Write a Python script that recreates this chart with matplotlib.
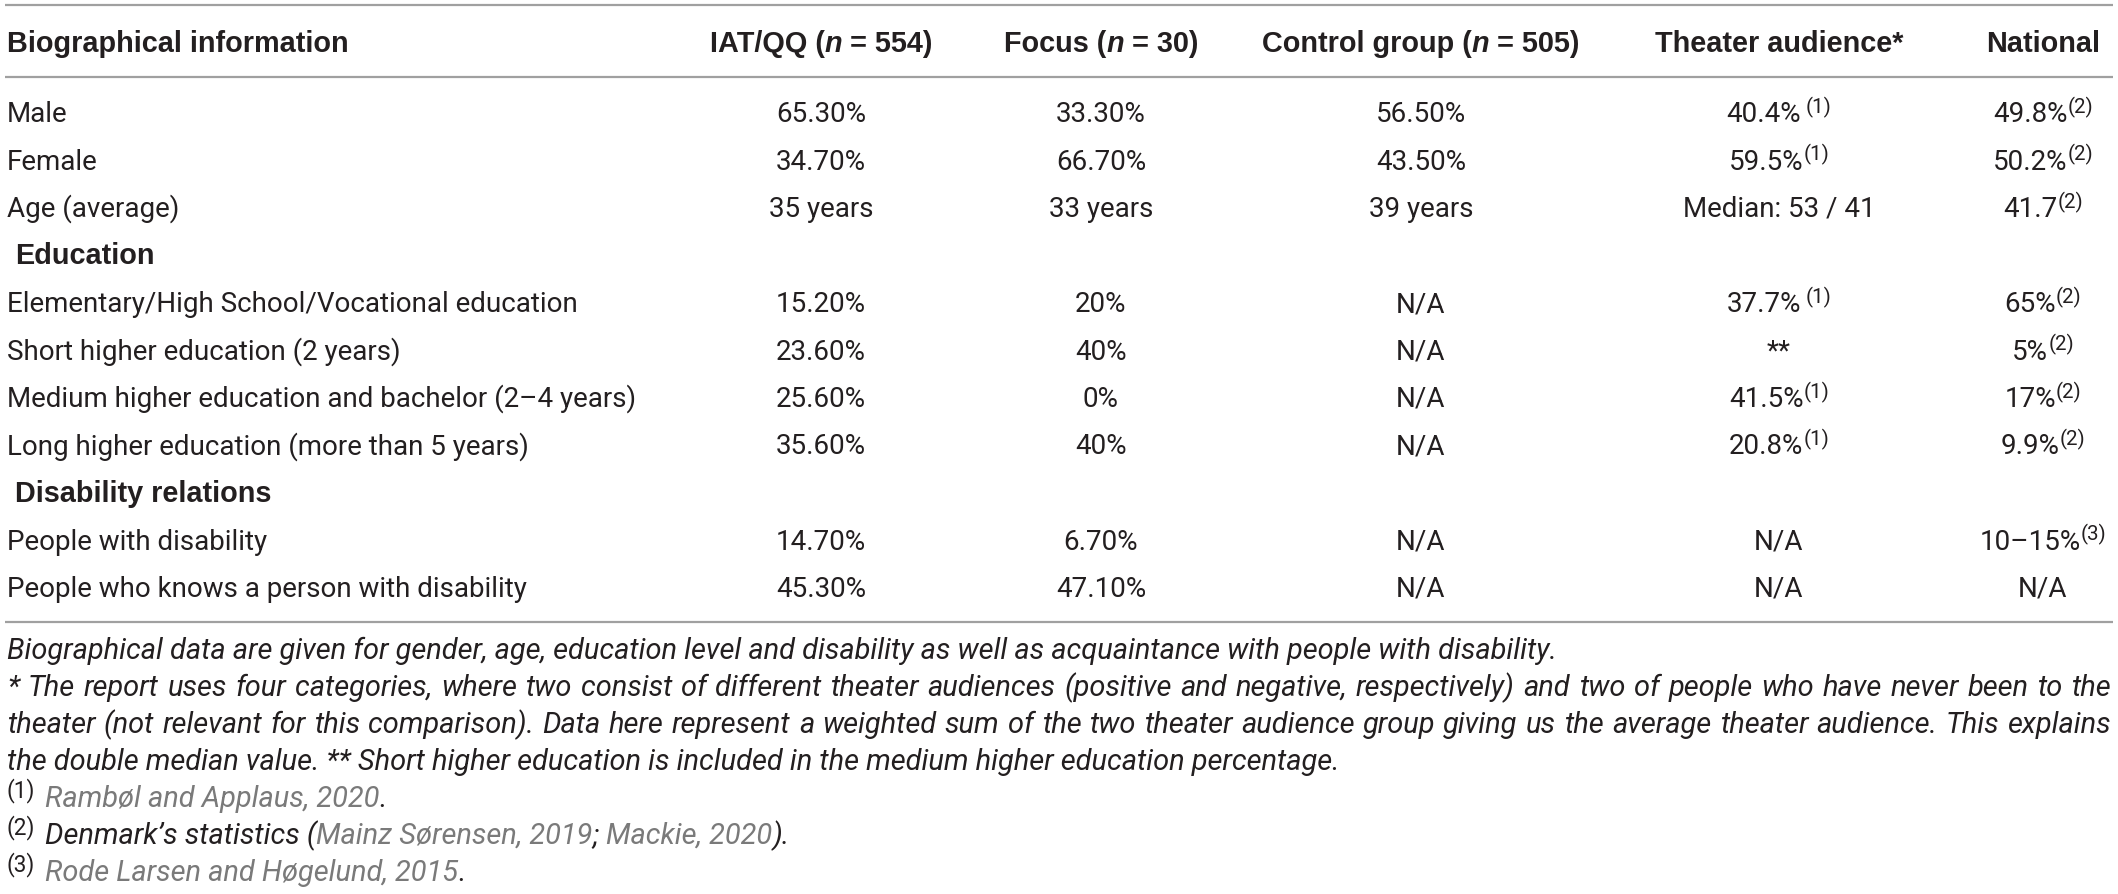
import matplotlib
matplotlib.use("Agg")
import matplotlib.pyplot as plt
from matplotlib.font_manager import FontProperties

# ---------------- data ----------------
header_cells = ["Biographical information", "IAT/QQ (_n_ = 554)", "Focus (_n_ = 30)",
                "Control group (_n_ = 505)", "Theater audience*", "National"]

row_labels = ["Male", "Female", "Age (average)", "Education",
              "Elementary/High School/Vocational education",
              "Short higher education (2 years)",
              "Medium higher education and bachelor (2–4 years)",
              "Long higher education (more than 5 years)",
              "Disability relations", "People with disability",
              "People who knows a person with disability"]
section_rows = ["Education", "Disability relations"]

iat_qq = ["65.30%", "34.70%", "35 years", "", "15.20%", "23.60%", "25.60%", "35.60%", "", "14.70%", "45.30%"]
focus = ["33.30%", "66.70%", "33 years", "", "20%", "40%", "0%", "40%", "", "6.70%", "47.10%"]
control = ["56.50%", "43.50%", "39 years", "", "N/A", "N/A", "N/A", "N/A", "", "N/A", "N/A"]
theater = ["40.4%", "59.5%", "Median: 53 / 41", "", "37.7%", "**", "41.5%", "20.8%", "", "N/A", "N/A"]
theater_sup = [" (1)", "(1)", "", "", " (1)", "", "(1)", "(1)", "", "", ""]
national = ["49.8%", "50.2%", "41.7", "", "65%", "5%", "17%", "9.9%", "", "10–15%", "N/A"]
national_sup = ["(2)", "(2)", "(2)", "", "(2)", "(2)", "(2)", "(2)", "", "(3)", ""]

note_line1 = ("Biographical data are given for gender, age, education level and disability "
              "as well as acquaintance with people with disability.")
note_justified = [
    "* The report uses four categories, where two consist of different theater audiences "
    "(positive and negative, respectively) and two of people who have never been to the",
    "theater (not relevant for this comparison). Data here represent a weighted sum of the "
    "two theater audience group giving us the average theater audience. This explains",
]
note_line4 = ("the double median value. ** Short higher education is included in the "
              "medium higher education percentage.")
# reference footnotes: (marker, [(text, is_citation)])
ref_notes = [
    ("(1)", [("Rambøl and Applaus, 2020", True), (".", False)]),
    ("(2)", [("Denmark’s statistics (", False), ("Mainz Sørensen, 2019", True), ("; ", False),
             ("Mackie, 2020", True), (").", False)]),
    ("(3)", [("Rode Larsen and Høgelund, 2015", True), (".", False)]),
]

# ---------------- layout / style ----------------
W, H = 2118, 894
TXT = "#231f20"
GREY = "#7a7a7a"
RULE = "#a0a0a0"
FAM_BODY = ["Liberation Sans Narrow", "Roboto", "DejaVu Sans"]
FAM_HEAD = ["Liberation Sans", "Roboto", "DejaVu Sans"]

fig = plt.figure(figsize=(W / 100, H / 100), dpi=100)
ax = fig.add_axes([0, 0, 1, 1])
ax.set_xlim(0, W)
ax.set_ylim(H, 0)
ax.axis("off")
renderer = fig.canvas.get_renderer()


def fp(size, fam, weight="normal", style="normal"):
    return FontProperties(family=fam, size=size, weight=weight, style=style)


def ink_width(s, prop):
    t = ax.text(0, 0, s, fontproperties=prop)
    w = t.get_window_extent(renderer).width
    t.remove()
    return w


def adv(s, prop):
    return ink_width("I" + s + "I", prop) - ink_width("II", prop)


def fit(text, target, fam, **kw):
    return 20 * target / ink_width(text, fp(20, fam, **kw))


body_sz = fit("Elementary/High School/Vocational education", 570, FAM_BODY)
head_sz = fit("Biographical information", 341, FAM_HEAD, weight="bold")
note_sz = fit(note_line1, 1549, FAM_BODY, style="italic")

BODY = fp(body_sz, FAM_BODY)
BOLD = fp(head_sz, FAM_HEAD, weight="bold")
BOLDI = fp(head_sz, FAM_HEAD, weight="bold", style="italic")
SUP = fp(body_sz * 0.74, FAM_BODY)
NOTE = fp(note_sz, FAM_BODY, style="italic")
NOTESUP = fp(note_sz * 0.78, FAM_BODY)
body_px = body_sz * 100 / 72
note_px = note_sz * 100 / 72


def draw_runs(x, y, runs, ha="left"):
    ws = [adv(t, p) for t, p, c, dy in runs]
    total = sum(ws)
    x0 = x - total / 2 if ha == "center" else (x - total if ha == "right" else x)
    for (t, p, c, dy), w in zip(runs, ws):
        s = t.lstrip(" ")
        lead = len(t) - len(s)
        xs = x0 + lead * adv(" ", p)
        s = s.rstrip(" ")
        if s:
            ax.text(xs, y - dy, s, fontproperties=p, color=c, ha="left", va="baseline")
        x0 += w


LEFT = 7
col_x = [LEFT, 821, 1101, 1421, 1779, 2043]
head_base = 52
row_base0 = 122
row_step = 47.5
sup_raise = body_px * 0.33

# rules
for yy in (5, 77, 622):
    ax.plot([5, 2113], [yy, yy], color=RULE, lw=1.6, solid_capstyle="butt")

# header
for j, cell in enumerate(header_cells):
    parts = cell.split("_")
    runs = [(pt, BOLDI if k % 2 else BOLD, TXT, 0) for k, pt in enumerate(parts) if pt]
    draw_runs(col_x[j], head_base, runs, ha="left" if j == 0 else "center")

# body rows
for i, lab in enumerate(row_labels):
    y = row_base0 + i * row_step
    if lab in section_rows:
        draw_runs(LEFT, y, [(" " + lab, BOLD, TXT, 0)])
        continue
    draw_runs(LEFT, y, [(lab, BODY, TXT, 0)])
    for j, col in enumerate([iat_qq, focus, control]):
        draw_runs(col_x[j + 1], y, [(col[i], BODY, TXT, 0)], ha="center")
    runs = [(theater[i], BODY, TXT, 0)]
    if theater_sup[i]:
        runs.append((theater_sup[i], SUP, TXT, sup_raise))
    draw_runs(col_x[4], y, runs, ha="center")
    runs = [(national[i], BODY, TXT, 0)]
    if national_sup[i]:
        runs.append((national_sup[i], SUP, TXT, sup_raise))
    draw_runs(col_x[5], y, runs, ha="center")

# footnotes
note_base = [659, 696, 733, 770]
draw_runs(LEFT, note_base[0], [(note_line1, NOTE, TXT, 0)])
RIGHT = 2111
for k, line in enumerate(note_justified):
    words = line.split(" ")
    ws = [ink_width(wd, NOTE) for wd in words]
    gap = (RIGHT - LEFT - sum(ws)) / (len(words) - 1)
    x = LEFT
    for wd, w in zip(words, ws):
        ax.text(x, note_base[k + 1], wd, fontproperties=NOTE, color=TXT, ha="left", va="baseline")
        x += w + gap
draw_runs(LEFT, note_base[3], [(note_line4, NOTE, TXT, 0)])

ref_base = [807, 844, 881]
for (mark, parts), yb in zip(ref_notes, ref_base):
    draw_runs(LEFT, yb, [(mark, NOTESUP, TXT, note_px * 0.33)])
    runs = [(t, NOTE, GREY if cit else TXT, 0) for t, cit in parts]
    draw_runs(45, yb, runs)

fig.savefig("out.png", dpi=100)
